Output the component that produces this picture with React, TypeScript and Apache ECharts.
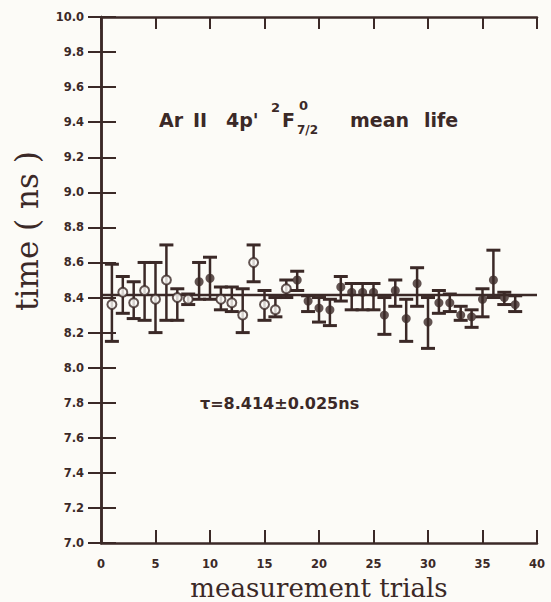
import React, { useEffect, useRef } from "react";
import * as echarts from "echarts";

const trials = [1,2,3,4,5,6,7,8,9,10,11,12,13,14,15,16,17,18,19,20,21,22,23,24,25,26,27,28,29,30,31,32,33,34,35,36,37,38];
const values = [8.36,8.43,8.37,8.44,8.39,8.50,8.40,8.39,8.49,8.51,8.39,8.37,8.30,8.60,8.36,8.33,8.45,8.50,8.38,8.34,8.33,8.46,8.43,8.43,8.43,8.30,8.44,8.28,8.48,8.26,8.37,8.37,8.30,8.29,8.39,8.50,8.40,8.36];
const upper = [8.59,8.52,8.49,8.60,8.60,8.70,8.45,8.42,8.60,8.63,8.46,8.46,8.45,8.70,8.44,8.40,8.50,8.55,8.41,8.40,8.39,8.52,8.48,8.48,8.48,8.40,8.50,8.39,8.57,8.40,8.44,8.42,8.35,8.33,8.45,8.67,8.43,8.41];
const lower = [8.15,8.31,8.28,8.27,8.20,8.27,8.27,8.36,8.39,8.39,8.33,8.32,8.20,8.49,8.27,8.29,8.40,8.44,8.32,8.26,8.24,8.38,8.33,8.33,8.33,8.19,8.35,8.15,8.35,8.11,8.31,8.32,8.27,8.23,8.29,8.40,8.36,8.32];
// o = open marker, f = filled marker
const markerKind = ["o","o","o","o","o","o","o","o","f","f","o","o","o","o","o","o","o","f","f","f","f","f","f","f","f","f","f","f","f","f","f","f","f","f","f","f","f","f"];
const meanLife = 8.414;
const xTicks = [0,5,10,15,20,25,30,35,40];
const yTicks = [7.0,7.2,7.4,7.6,7.8,8.0,8.2,8.4,8.6,8.8,9.0,9.2,9.4,9.6,9.8,10.0];

const INK = "#3b2927";
const BG = "#fcfbf7";

export default function App() {
  const ref = useRef<HTMLDivElement>(null);
  useEffect(() => {
    document.body.style.margin = "0";
    const chart = echarts.init(ref.current!, null, { renderer: "svg" });
    const errData = trials.map((t, i) => [t, lower[i], upper[i]]);
    const openData = trials.map((t, i) => [t, values[i]]).filter((_, i) => markerKind[i] === "o");
    const fillData = trials.map((t, i) => [t, values[i]]).filter((_, i) => markerKind[i] === "f");
    const tickLabel = { fontFamily: "DejaVu Sans", fontWeight: "bold", fontSize: 11.5, color: INK };
    const axisLineStyle = { lineStyle: { color: INK, width: 2.5 } };
    const txt = (text: string, left: number, top: number, size: number) => ({
      type: "text", left, top, style: { text, font: `bold ${size}px 'DejaVu Sans'`, fill: INK },
    });
    chart.setOption({
      animation: false,
      backgroundColor: BG,
      grid: { left: 101, right: 14, top: 17, bottom: 59, outerBoundsMode: "none", containLabel: false },
      xAxis: [
        {
          type: "value", min: xTicks[0], max: xTicks[xTicks.length - 1], interval: 5, position: "bottom",
          axisLine: axisLineStyle,
          axisTick: { inside: true, length: 13, lineStyle: { color: INK, width: 2 } },
          axisLabel: { ...tickLabel, margin: 15 },
          splitLine: { show: false },
          name: "measurement trials", nameLocation: "middle", nameGap: 24,
          nameTextStyle: { fontFamily: "DejaVu Serif", fontSize: 26, lineHeight: 26, color: INK, verticalAlign: "top" },
        },
        {
          type: "value", min: 0, max: 40, interval: 5, position: "top",
          axisLine: axisLineStyle,
          axisTick: { inside: true, length: 12, lineStyle: { color: INK, width: 2 } },
          axisLabel: { show: false }, splitLine: { show: false },
        },
      ],
      yAxis: [
        {
          type: "value", min: yTicks[0], max: yTicks[yTicks.length - 1], interval: 0.2, position: "left",
          axisLine: axisLineStyle,
          axisTick: { inside: true, length: 15, lineStyle: { color: INK, width: 2 } },
          axisLabel: { ...tickLabel, margin: 17, formatter: (v: number) => v.toFixed(1) },
          splitLine: { show: false },
        },
        {
          type: "value", min: 7.0, max: 10.0, interval: 0.2, position: "right",
          axisLine: axisLineStyle,
          axisTick: { inside: true, length: 13, lineStyle: { color: INK, width: 2 } },
          axisLabel: { show: false }, splitLine: { show: false },
        },
      ],
      series: [
        {
          type: "line", data: [[0, meanLife], [40, meanLife]], symbol: "none",
          lineStyle: { color: INK, width: 2.5 }, z: 2,
        },
        {
          type: "custom", data: errData, z: 3,
          renderItem: (params: any, api: any) => {
            const t = api.value(0);
            const lo = api.coord([t, api.value(1)]);
            const hi = api.coord([t, api.value(2)]);
            const hw = 7;
            return {
              type: "group",
              children: [
                { type: "line", shape: { x1: lo[0], y1: lo[1], x2: hi[0], y2: hi[1] }, style: { stroke: INK, lineWidth: 2.5 } },
                { type: "line", shape: { x1: lo[0] - hw, y1: lo[1], x2: lo[0] + hw, y2: lo[1] }, style: { stroke: INK, lineWidth: 3 } },
                { type: "line", shape: { x1: hi[0] - hw, y1: hi[1], x2: hi[0] + hw, y2: hi[1] }, style: { stroke: INK, lineWidth: 3 } },
              ],
            };
          },
        },
        {
          type: "scatter", data: openData, symbol: "circle", symbolSize: 9, z: 4,
          itemStyle: { color: BG, borderColor: INK, borderWidth: 2 },
        },
        {
          type: "scatter", data: fillData, symbol: "circle", symbolSize: 9, z: 4,
          itemStyle: { color: INK },
        },
      ],
      graphic: [
        {
          type: "text", x: 27, y: 231, rotation: Math.PI / 2,
          style: { text: "time ( ns )", font: "31px 'DejaVu Serif'", fill: INK, align: "center", verticalAlign: "middle" },
        },
        txt("Ar", 159, 110, 19),
        txt("II", 193, 110, 19),
        txt("4p'", 226, 110, 19),
        txt("2", 271, 101, 13),
        txt("F", 282, 110, 19),
        txt("0", 299, 99, 13),
        txt("7/2", 297, 124, 12),
        txt("mean", 350, 110, 19),
        txt("life", 424, 110, 19),
        txt("τ=8.414±0.025ns", 200, 395, 16),
      ],
    });
    return () => chart.dispose();
  }, []);
  return <div ref={ref} style={{ width: 551, height: 602 }} />;
}
